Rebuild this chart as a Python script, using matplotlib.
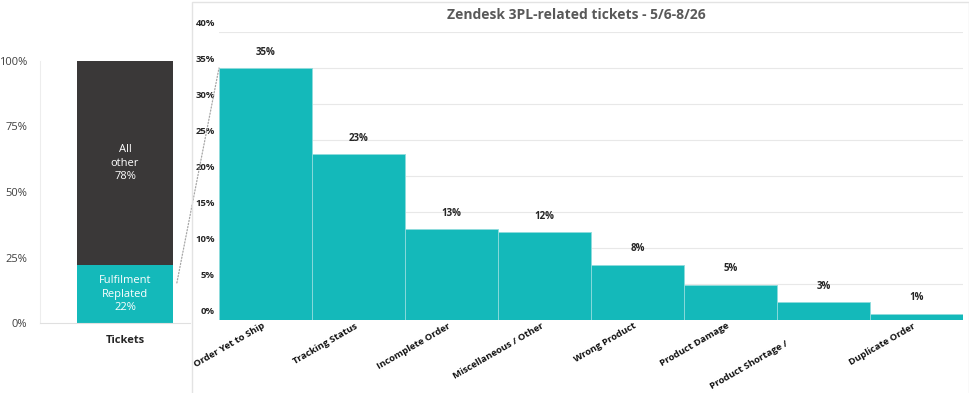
import matplotlib
matplotlib.use("Agg")
import matplotlib.pyplot as plt
from matplotlib.transforms import ScaledTranslation
from matplotlib.patches import ConnectionPatch, Rectangle

plt.rcParams['font.family'] = ['Open Sans', 'DejaVu Sans']

# ---- data ----
stack_category = "Tickets"
stack_labels = ["Fulfilment\nReplated", "All\nother"]
stack_values = [22, 78]

categories = ["Order Yet to Ship", "Tracking Status", "Incomplete Order",
              "Miscellaneous / Other", "Wrong Product", "Product Damage",
              "Product Shortage /", "Duplicate Order"]
values = [35.0, 23.0, 12.6, 12.2, 7.7, 4.9, 2.5, 0.9]
value_labels = ["35%", "23%", "13%", "12%", "8%", "5%", "3%", "1%"]
left_ticks = [0, 25, 50, 75, 100]
right_ticks = [0, 5, 10, 15, 20, 25, 30, 35, 40]
title = "Zendesk 3PL-related tickets - 5/6-8/26"

TEAL = "#14B9BA"
DARK = "#3A3838"
GRID = "#E8E8E8"

W, H = 970, 393
fig = plt.figure(figsize=(W / 100, H / 100), dpi=100)

# panel border for right chart
fig.patches.append(Rectangle((192 / W, -0.01), (969 - 192) / W, 1.0 + 0.01 - 1.5 / H,
                             transform=fig.transFigure, fill=False,
                             edgecolor="#E3E3E3", linewidth=1.0))

# ---- left stacked bar ----
axL = fig.add_axes([40 / W, 70 / H, 150 / W, 262 / H])
bottom = 0
colors = [TEAL, DARK]
for lab, v, c in zip(stack_labels, stack_values, colors):
    axL.bar(0, v, width=1.0, bottom=bottom, color=c, edgecolor="none")
    axL.text(0, bottom + v / 2, f"{lab}\n{v}%", ha="center", va="center",
             color="white", fontsize=8, linespacing=1.35)
    bottom += v
axL.set_xlim(-0.885, 0.677)
axL.set_ylim(0, 100)
axL.set_yticks(left_ticks)
axL.set_yticklabels([f"{t}%" for t in left_ticks], fontsize=8, color="#404040")
axL.tick_params(axis="y", length=0, pad=9)
axL.set_xticks([0])
axL.set_xticklabels([stack_category], fontsize=8, fontweight="bold", color="#262626")
axL.tick_params(axis="x", length=0, pad=8.5)
for s in ["top", "right"]:
    axL.spines[s].set_visible(False)
axL.spines["left"].set_color("#EDEDED")
axL.spines["bottom"].set_color("#E0E0E0")

# ---- right pareto-like bars ----
axR = fig.add_axes([219 / W, 73 / H, (963 - 219) / W, 288 / H])
x = list(range(len(categories)))
axR.bar(x, values, width=1.0, color=TEAL, edgecolor="#8FDCDC", linewidth=0.6, zorder=2)
for xi, v, lab in zip(x, values, value_labels):
    axR.annotate(lab, (xi, v), xytext=(0, 11.5), textcoords="offset points",
                 ha="center", va="center", fontsize=7, fontweight="bold",
                 color="#262626")
axR.set_xlim(-0.5, len(categories) - 0.5)
axR.set_ylim(0, 40)
axR.set_yticks(right_ticks)
axR.set_yticklabels([f"{t}%" for t in right_ticks], fontsize=6.8,
                    fontweight="bold", color="#262626")
axR.tick_params(axis="y", length=0, pad=3)
for lbl in axR.get_yticklabels():
    lbl.set_transform(lbl.get_transform() + ScaledTranslation(0, 6.5 / 72, fig.dpi_scale_trans))
axR.yaxis.grid(True, color=GRID, linewidth=0.8, zorder=0)
axR.set_axisbelow(True)
axR.set_xticks(x)
axR.set_xticklabels(categories, rotation=30, ha="right", rotation_mode="anchor",
                    fontsize=6.8, fontweight="bold", color="#111111")
axR.tick_params(axis="x", length=0, pad=1)
for i, lbl in enumerate(axR.get_xticklabels()):
    dx = -4 / 100
    dy = 0
    if categories[i].endswith("/"):
        dx, dy = -38 / 100, -18 / 100
    lbl.set_transform(lbl.get_transform() + ScaledTranslation(dx, dy, fig.dpi_scale_trans))
for s in axR.spines.values():
    s.set_visible(False)

fig.text(576 / W, 1 - 15 / H, title, ha="center", va="center",
         fontsize=10, fontweight="bold", color="#595959")

# dotted connector
con = ConnectionPatch(xyA=(0.54, 15.3), coordsA=axL.transData,
                      xyB=(-0.5, 35.0), coordsB=axR.transData,
                      color="#A6A6A6", linestyle=(0, (1, 1.5)), linewidth=0.9)
fig.add_artist(con)

fig.savefig("out.png", dpi=100)
